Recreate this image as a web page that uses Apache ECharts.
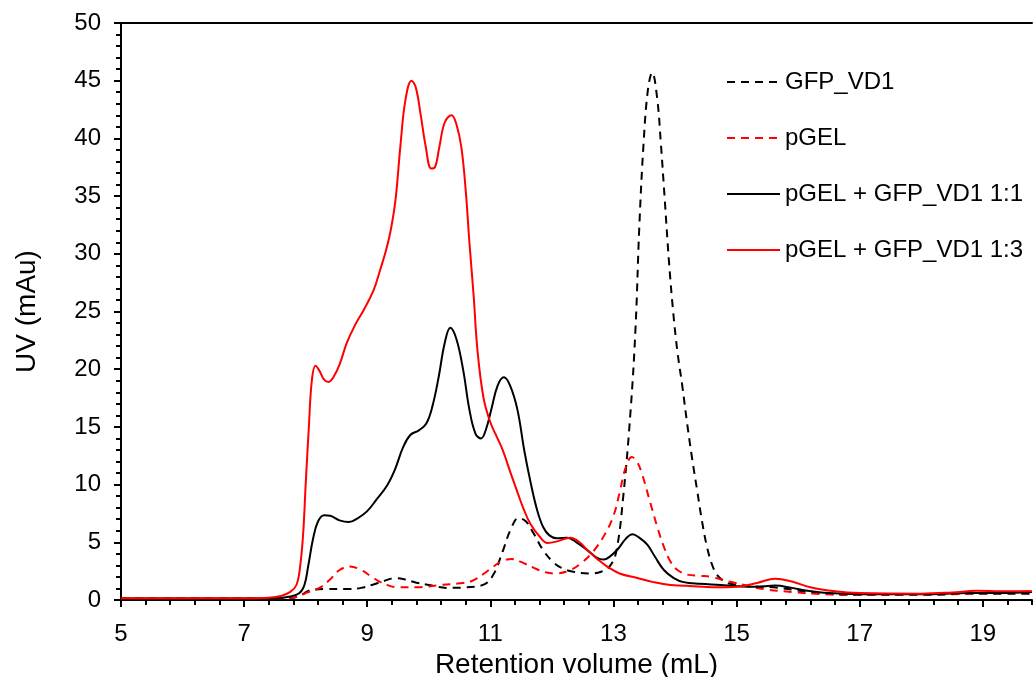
<!DOCTYPE html>
<html>
<head>
<meta charset="utf-8">
<script src="https://cdn.jsdelivr.net/npm/echarts@6/dist/echarts.min.js"></script>
<style>
html,body{margin:0;padding:0;background:#fff;}
#chart{width:1035px;height:677px;}
</style>
</head>
<body>
<div id="chart"></div>
<script>
// ---- data (retention volume mL, UV mAu) ----
const seriesNames = ['GFP_VD1', 'pGEL', 'pGEL + GFP_VD1 1:1', 'pGEL + GFP_VD1 1:3'];

const gfpVD1 = [[5,0.1],[6,0.1],[7,0.1],[7.5,0.12],[7.8,0.2],[7.95,0.5],[8.05,0.8],[8.3,0.95],[8.7,0.95],[8.9,1.05],[9.1,1.35],[9.3,1.7],[9.45,1.9],[9.6,1.8],[9.8,1.5],[10.0,1.3],[10.3,1.05],[10.6,1.1],[10.9,1.35],[11.05,2.2],[11.2,4.2],[11.33,6.1],[11.46,7.1],[11.58,6.8],[11.7,5.8],[11.86,4.3],[12.0,3.4],[12.15,2.8],[12.35,2.45],[12.6,2.3],[12.8,2.45],[12.95,3.0],[13.05,4.3],[13.16,9.0],[13.28,16.5],[13.36,23.7],[13.42,32.3],[13.49,39.6],[13.56,44.2],[13.63,45.7],[13.71,43.5],[13.77,39.6],[13.83,35.0],[13.9,29.5],[13.97,25.0],[14.04,21.5],[14.12,18.5],[14.2,15.2],[14.28,12.2],[14.36,9.5],[14.44,6.8],[14.52,4.6],[14.6,3.1],[14.68,2.2],[14.78,1.7],[14.9,1.4],[15.2,1.2],[15.6,1.1],[15.9,0.9],[16.3,0.6],[17,0.45],[18,0.45],[19,0.55],[19.8,0.55]];

const pGEL = [[5,0.15],[7,0.15],[7.6,0.15],[7.85,0.25],[8.0,0.6],[8.24,1.1],[8.4,1.8],[8.55,2.6],[8.72,2.9],[8.9,2.6],[9.05,2.1],[9.2,1.6],[9.35,1.25],[9.5,1.1],[9.8,1.1],[10.2,1.3],[10.5,1.45],[10.7,1.65],[10.9,2.3],[11.05,2.9],[11.2,3.4],[11.35,3.55],[11.5,3.3],[11.7,2.8],[11.9,2.4],[12.05,2.3],[12.3,2.6],[12.5,3.3],[12.67,4.2],[12.85,5.6],[13.0,7.3],[13.1,9.3],[13.2,11.5],[13.3,12.4],[13.38,12.0],[13.46,11.0],[13.6,8.4],[13.72,6.2],[13.82,4.6],[13.93,3.3],[14.04,2.6],[14.2,2.2],[14.4,2.1],[14.6,2.0],[14.8,1.7],[14.97,1.5],[15.2,1.2],[15.5,0.9],[15.9,0.7],[16.4,0.5],[17,0.45],[18,0.5],[19,0.55],[19.6,0.7],[19.8,0.8]];

const mix11 = [[5,0.12],[7,0.12],[7.5,0.15],[7.75,0.3],[7.9,0.6],[7.98,1.3],[8.04,2.9],[8.12,5.3],[8.2,6.8],[8.3,7.35],[8.4,7.3],[8.55,6.9],[8.7,6.75],[8.85,7.1],[9.0,7.7],[9.15,8.7],[9.32,9.9],[9.45,11.3],[9.58,13.2],[9.7,14.3],[9.84,14.7],[9.96,15.3],[10.06,16.8],[10.16,19.3],[10.26,22.3],[10.35,23.6],[10.45,22.6],[10.56,19.9],[10.66,16.5],[10.76,14.4],[10.85,14.0],[10.93,14.8],[11.02,16.6],[11.12,18.6],[11.22,19.3],[11.32,18.6],[11.44,16.5],[11.55,13.0],[11.65,10.3],[11.76,7.8],[11.86,6.3],[11.96,5.6],[12.08,5.35],[12.25,5.4],[12.4,5.0],[12.58,4.3],[12.72,3.7],[12.84,3.5],[12.95,3.8],[13.07,4.4],[13.2,5.3],[13.31,5.7],[13.42,5.4],[13.55,4.8],[13.68,3.7],[13.82,2.6],[13.98,1.9],[14.14,1.55],[14.4,1.4],[14.74,1.3],[15.0,1.2],[15.3,1.15],[15.63,1.25],[15.9,1.05],[16.1,0.85],[16.5,0.6],[17,0.5],[18,0.5],[18.8,0.6],[19.3,0.6],[19.8,0.7]];

const mix13 = [[5,0.15],[7,0.15],[7.4,0.2],[7.6,0.35],[7.75,0.7],[7.85,1.3],[7.91,2.9],[7.96,5.8],[8.0,10.0],[8.05,14.8],[8.1,19.0],[8.16,20.3],[8.22,19.9],[8.3,19.1],[8.37,18.9],[8.45,19.3],[8.55,20.4],[8.67,22.3],[8.8,23.8],[8.95,25.2],[9.1,26.8],[9.21,28.6],[9.3,30.2],[9.38,32.0],[9.46,34.7],[9.54,39.4],[9.62,43.3],[9.72,45.0],[9.79,44.4],[9.87,42.0],[9.95,39.3],[10.04,37.4],[10.1,37.5],[10.17,39.2],[10.26,41.4],[10.37,42.0],[10.45,41.2],[10.53,39.2],[10.6,35.5],[10.66,31.0],[10.73,26.3],[10.79,21.7],[10.89,17.5],[11.0,15.4],[11.1,14.2],[11.2,13.0],[11.33,11.0],[11.45,9.2],[11.54,7.9],[11.65,6.6],[11.8,5.5],[11.93,4.95],[12.1,5.1],[12.3,5.4],[12.45,5.0],[12.58,4.3],[12.75,3.5],[12.9,2.9],[13.1,2.3],[13.39,1.9],[13.65,1.55],[13.93,1.3],[14.3,1.2],[14.74,1.1],[15.1,1.2],[15.35,1.5],[15.63,1.85],[15.9,1.6],[16.2,1.1],[16.6,0.75],[17,0.6],[18,0.55],[18.5,0.65],[18.9,0.8],[19.3,0.75],[19.8,0.75]];

const xTickLabels = [5,7,9,11,13,15,17,19];
const yTickLabels = [0,5,10,15,20,25,30,35,40,45,50];

// ---- chart ----
const FONT = '"Liberation Sans", Arial, sans-serif';
const chart = echarts.init(document.getElementById('chart'), null, {renderer: 'canvas'});

function lineSeries(name, data, color, dashed) {
  return {
    name: name, type: 'line', data: data, xAxisIndex: 0, yAxisIndex: 0,
    symbol: 'none', showSymbol: false, smooth: 0.4, animation: false,
    lineStyle: {color: color, width: 2, type: dashed ? [8, 6] : 'solid'},
    itemStyle: {color: color},
    emphasis: {disabled: true}
  };
}

const option = {
  animation: false,
  backgroundColor: '#ffffff',
  grid: {left: 121, right: 3, top: 23, bottom: 77, containLabel: false, outerBoundsMode: 'none'},
  legend: {
    orient: 'vertical', left: 721, top: 65,
    itemWidth: 53, itemHeight: 14, itemGap: 32,
    itemStyle: {opacity: 0, color: 'rgba(0,0,0,0)', borderWidth: 0},
    textStyle: {fontFamily: FONT, fontSize: 24, color: '#000'},
    data: seriesNames, selectedMode: false
  },
  xAxis: [
    {
      type: 'value', min: 5, max: 19.8, interval: 2, position: 'bottom',
      name: 'Retention volume (mL)', nameLocation: 'middle', nameGap: 49,
      nameTextStyle: {fontFamily: FONT, fontSize: 28, color: '#000'},
      axisLine: {show: true, onZero: false, lineStyle: {color: '#000', width: 2}},
      axisTick: {show: true, length: 7, lineStyle: {color: '#000', width: 2}, customValues: xTickLabels},
      axisLabel: {fontFamily: FONT, fontSize: 24, color: '#000', margin: 22, customValues: xTickLabels},
      splitLine: {show: false}
    },
    {
      type: 'value', min: 5, max: 19.8, interval: 0.4, position: 'bottom', offset: 0,
      axisLine: {show: false},
      axisTick: {show: true, length: 5, lineStyle: {color: '#000', width: 2}},
      axisLabel: {show: false},
      splitLine: {show: false}
    },
    {
      type: 'value', min: 5, max: 19.8, position: 'top',
      axisLine: {show: true, onZero: false, lineStyle: {color: '#000', width: 2}},
      axisTick: {show: false}, axisLabel: {show: false}, splitLine: {show: false}
    }
  ],
  yAxis: {
    type: 'value', min: 0, max: 50, interval: 5,
    name: 'UV (mAu)', nameLocation: 'middle', nameGap: 80,
    nameTextStyle: {fontFamily: FONT, fontSize: 28, color: '#000'},
    axisLine: {show: true, onZero: false, lineStyle: {color: '#000', width: 2}},
    axisTick: {show: true, length: 7, lineStyle: {color: '#000', width: 2}},
    minorTick: {show: true, splitNumber: 5, length: 5, lineStyle: {color: '#000', width: 2}},
    axisLabel: {fontFamily: FONT, fontSize: 24, color: '#000', margin: 20, customValues: yTickLabels},
    splitLine: {show: false}, minorSplitLine: {show: false}
  },
  series: [
    lineSeries(seriesNames[0], gfpVD1, '#000000', true),
    lineSeries(seriesNames[1], pGEL, '#ff0000', true),
    lineSeries(seriesNames[2], mix11, '#000000', false),
    lineSeries(seriesNames[3], mix13, '#ff0000', false)
  ]
};
chart.setOption(option);
</script>
</body>
</html>
